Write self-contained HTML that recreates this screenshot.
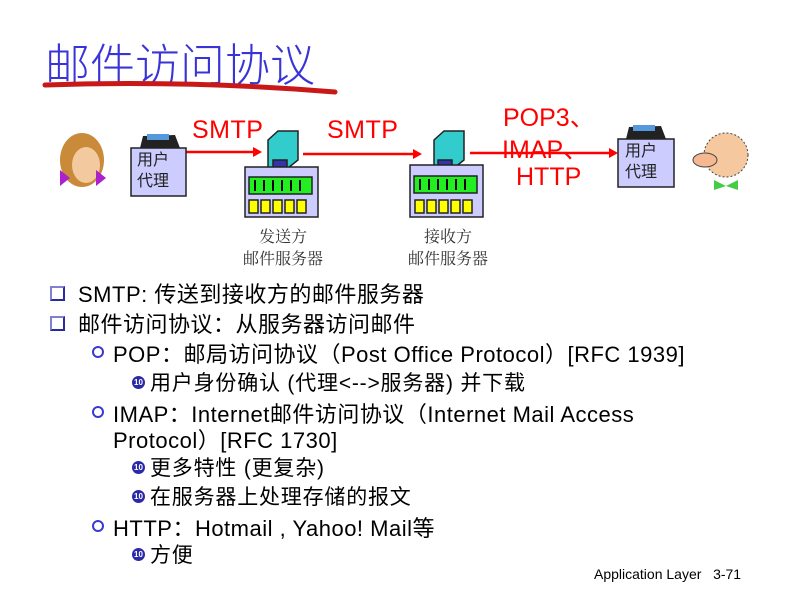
<!DOCTYPE html>
<html><head><meta charset="utf-8"><style>
body{margin:0;width:797px;height:589px;background:#fff;position:relative;overflow:hidden;font-family:"Liberation Sans","Noto Sans CJK SC",sans-serif}
.a{position:absolute;white-space:nowrap}
.t{font-size:22px;color:#000;letter-spacing:0.5px}
.t3{font-size:21px;letter-spacing:0.8px}
.cn{font-family:"Liberation Sans","Noto Sans CJK SC",sans-serif}
.red{color:#f00;font-size:25px}
.sq{position:absolute;width:11px;height:11px;border:2px solid #2a2aa0;border-left-color:#8080d0;border-top-color:#8080d0}
.ci{position:absolute;width:8px;height:8px;border:2px solid #3a3ad0;border-radius:50%}
.dot{position:absolute;width:13px;height:13px;border-radius:50%;background:#2a2aa8;color:#fff;font-size:8px;line-height:13px;text-align:center;font-weight:bold}
</style></head><body>
<div class="a" style="left:45px;top:29px;font-size:45px;color:#3a34d8;font-family:'Noto Sans CJK SC',sans-serif;font-weight:300;letter-spacing:0px">邮件访问协议</div>
<svg class="a" style="left:0;top:0" width="797" height="589">
<path d="M45 85 Q190 80 335 92" stroke="#c81818" stroke-width="5" fill="none" stroke-linecap="round"/>
<g stroke="#f00" stroke-width="2.5" fill="#f00">
<line x1="186" y1="152" x2="256" y2="152"/><polygon points="262,152 253,147 253,157" stroke="none"/>
<line x1="303" y1="154" x2="416" y2="154"/><polygon points="422,154 413,149 413,159" stroke="none"/>
<line x1="470" y1="153" x2="612" y2="153"/><polygon points="618,153 609,148 609,158" stroke="none"/>
</g>
<g stroke="#222" stroke-width="1.5">
<polygon points="268,140 278,131 298,131 298,160 288,168 268,168" fill="#33cccc"/>
<rect x="273" y="160" width="14" height="8" fill="#3333aa"/>
<rect x="245" y="167" width="73" height="50" fill="#ccccff"/>
<rect x="249" y="177" width="63" height="17" fill="#22ee22"/>
<rect x="249" y="200" width="9" height="13" fill="#ffff00"/><rect x="261" y="200" width="9" height="13" fill="#ffff00"/><rect x="273" y="200" width="9" height="13" fill="#ffff00"/><rect x="285" y="200" width="9" height="13" fill="#ffff00"/><rect x="297" y="200" width="9" height="13" fill="#ffff00"/>
<polygon points="434,140 444,131 464,131 464,160 454,168 434,168" fill="#33cccc"/>
<rect x="438" y="160" width="14" height="8" fill="#3333aa"/>
<rect x="410" y="165" width="73" height="52" fill="#ccccff"/>
<rect x="414" y="176" width="63" height="17" fill="#22ee22"/>
<rect x="415" y="200" width="9" height="13" fill="#ffff00"/><rect x="427" y="200" width="9" height="13" fill="#ffff00"/><rect x="439" y="200" width="9" height="13" fill="#ffff00"/><rect x="451" y="200" width="9" height="13" fill="#ffff00"/><rect x="463" y="200" width="9" height="13" fill="#ffff00"/>
</g>
<g stroke="#000" stroke-width="2">
<line x1="255" y1="180" x2="255" y2="191"/><line x1="264" y1="180" x2="264" y2="191"/><line x1="273" y1="180" x2="273" y2="191"/><line x1="282" y1="180" x2="282" y2="191"/><line x1="291" y1="180" x2="291" y2="191"/><line x1="300" y1="180" x2="300" y2="191"/>
<line x1="420" y1="179" x2="420" y2="190"/><line x1="429" y1="179" x2="429" y2="190"/><line x1="438" y1="179" x2="438" y2="190"/><line x1="447" y1="179" x2="447" y2="190"/><line x1="456" y1="179" x2="456" y2="190"/><line x1="465" y1="179" x2="465" y2="190"/>
</g>
<path d="M140 148 L143 136 L175 135 L180 148 Z" fill="#222"/><rect x="147" y="134" width="22" height="6" fill="#5599dd"/>
<rect x="131" y="148" width="55" height="48" fill="#ccccff" stroke="#222" stroke-width="1.5"/>
<path d="M626 139 L629 127 L661 126 L666 139 Z" fill="#222"/><rect x="633" y="125" width="22" height="6" fill="#5599dd"/>
<rect x="618" y="139" width="56" height="48" fill="#ccccff" stroke="#222" stroke-width="1.5"/>
<ellipse cx="82" cy="160" rx="22" ry="27" fill="#c98a3a"/>
<ellipse cx="86" cy="165" rx="14" ry="18" fill="#f3c9a0"/>
<path d="M60 170 L70 178 L60 186 Z M96 170 L106 178 L96 186 Z" fill="#aa22cc"/>
<ellipse cx="726" cy="155" rx="22" ry="22" fill="#f5c8a0" stroke="#444" stroke-dasharray="2 2"/>
<ellipse cx="705" cy="160" rx="12" ry="7" fill="#f5b890" stroke="#444"/>
<path d="M714 180 L726 186 L714 190 Z M738 180 L726 186 L738 190 Z" fill="#44cc44"/>
</svg>
<div class="a cn" style="left:137px;top:150px;font-size:16px;line-height:21px;color:#222">用户<br>代理</div>
<div class="a cn" style="left:625px;top:141px;font-size:16px;line-height:21px;color:#222">用户<br>代理</div>
<div class="a red" style="left:192px;top:116px;letter-spacing:0.5px">SMTP</div>
<div class="a red" style="left:327px;top:116px;letter-spacing:0.5px">SMTP</div>
<div class="a red cn" style="left:503px;top:98px">POP3、</div>
<div class="a red cn" style="left:502px;top:130px">IMAP、</div>
<div class="a red" style="left:516px;top:163px">HTTP</div>
<div class="a" style="left:238px;top:225px;font-size:16px;line-height:22px;text-align:center;width:90px;font-family:'Noto Serif CJK SC',serif;color:#333">发送方<br>邮件服务器</div>
<div class="a" style="left:403px;top:225px;font-size:16px;line-height:22px;text-align:center;width:90px;font-family:'Noto Serif CJK SC',serif;color:#333">接收方<br>邮件服务器</div>

<div class="sq" style="left:50px;top:286px"></div>
<div class="a t" style="left:78px;top:277px">SMTP: 传送到接收方的邮件服务器</div>
<div class="sq" style="left:50px;top:316px"></div>
<div class="a t" style="left:78px;top:307px">邮件访问协议：从服务器访问邮件</div>
<div class="ci" style="left:92px;top:346px"></div>
<div class="a t" style="left:113px;top:337px">POP：邮局访问协议（Post Office Protocol）[RFC 1939]</div>
<div class="dot" style="left:132px;top:376px">10</div>
<div class="a t t3" style="left:150px;top:367px">用户身份确认 (代理&lt;--&gt;服务器) 并下载</div>
<div class="ci" style="left:92px;top:406px"></div>
<div class="a t" style="left:113px;top:397px">IMAP：Internet邮件访问协议（Internet Mail Access</div>
<div class="a t" style="left:113px;top:423px">Protocol）[RFC 1730]</div>
<div class="dot" style="left:132px;top:461px">10</div>
<div class="a t t3" style="left:150px;top:452px">更多特性 (更复杂)</div>
<div class="dot" style="left:132px;top:490px">10</div>
<div class="a t t3" style="left:150px;top:481px">在服务器上处理存储的报文</div>
<div class="ci" style="left:92px;top:520px"></div>
<div class="a t" style="left:113px;top:511px">HTTP：Hotmail , Yahoo! Mail等</div>
<div class="dot" style="left:132px;top:548px">10</div>
<div class="a t t3" style="left:150px;top:539px">方便</div>
<div class="a" style="left:594px;top:566px;font-size:14px;color:#000">Application Layer&nbsp;&nbsp;&nbsp;3-71</div>
</body></html>
